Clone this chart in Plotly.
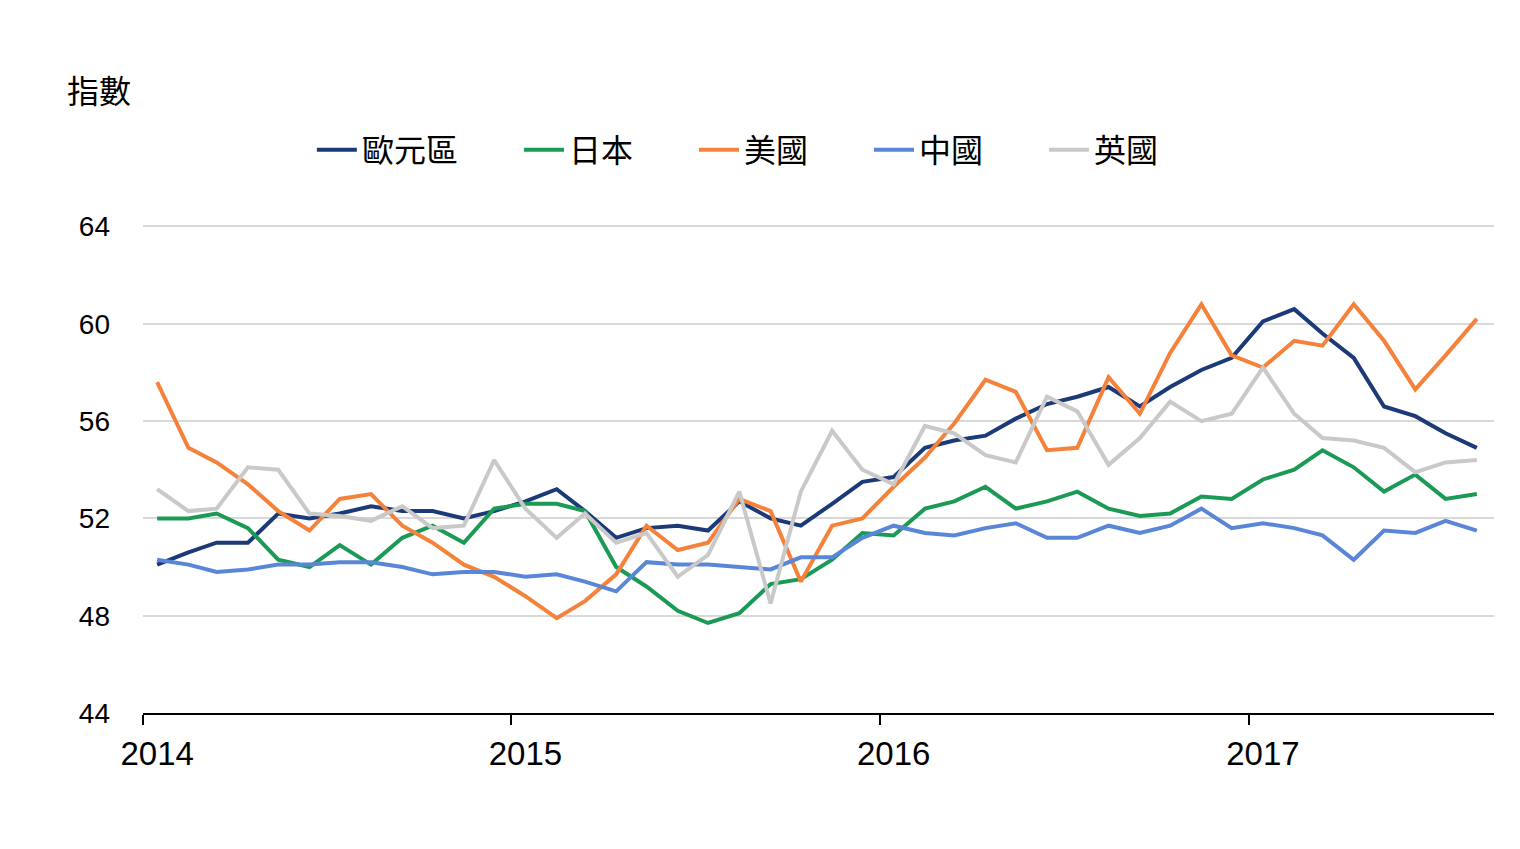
import pandas as pd
import plotly.graph_objects as go

months = pd.date_range("2014-01-01", "2017-08-01", freq="MS") + pd.Timedelta(days=14)

euro = [50.1, 50.6, 51.0, 51.0, 52.2, 52.0, 52.2, 52.5, 52.3, 52.3, 52.0, 52.3,
        52.7, 53.2, 52.3, 51.2, 51.6, 51.7, 51.5, 52.7, 52.0, 51.7, 52.6, 53.5,
        53.7, 54.9, 55.2, 55.4, 56.1, 56.7, 57.0, 57.4, 56.6, 57.4, 58.1, 58.6,
        60.1, 60.6, 59.6, 58.6, 56.6, 56.2, 55.5, 54.9]
japan = [52.0, 52.0, 52.2, 51.6, 50.3, 50.0, 50.9, 50.1, 51.2, 51.7, 51.0, 52.4,
         52.6, 52.6, 52.3, 50.0, 49.2, 48.2, 47.7, 48.1, 49.3, 49.5, 50.3, 51.4,
         51.3, 52.4, 52.7, 53.3, 52.4, 52.7, 53.1, 52.4, 52.1, 52.2, 52.9, 52.8,
         53.6, 54.0, 54.8, 54.1, 53.1, 53.8, 52.8, 53.0]
usa = [57.6, 54.9, 54.3, 53.4, 52.3, 51.5, 52.8, 53.0, 51.7, 51.0, 50.1, 49.6,
       48.8, 47.9, 48.6, 49.7, 51.7, 50.7, 51.0, 52.8, 52.3, 49.4, 51.7, 52.0,
       53.3, 54.5, 55.9, 57.7, 57.2, 54.8, 54.9, 57.8, 56.3, 58.8, 60.8, 58.7,
       58.2, 59.3, 59.1, 60.8, 59.3, 57.3, 58.7, 60.2]
china = [50.3, 50.1, 49.8, 49.9, 50.1, 50.1, 50.2, 50.2, 50.0, 49.7, 49.8, 49.8,
         49.6, 49.7, 49.4, 49.0, 50.2, 50.1, 50.1, 50.0, 49.9, 50.4, 50.4, 51.2,
         51.7, 51.4, 51.3, 51.6, 51.8, 51.2, 51.2, 51.7, 51.4, 51.7, 52.4, 51.6,
         51.8, 51.6, 51.3, 50.3, 51.5, 51.4, 51.9, 51.5]
uk = [53.2, 52.3, 52.4, 54.1, 54.0, 52.2, 52.1, 51.9, 52.5, 51.6, 51.7, 54.4,
      52.4, 51.2, 52.2, 51.0, 51.4, 49.6, 50.5, 53.1, 48.5, 53.1, 55.6, 54.0,
      53.4, 55.8, 55.5, 54.6, 54.3, 57.0, 56.4, 54.2, 55.3, 56.8, 56.0, 56.3,
      58.2, 56.3, 55.3, 55.2, 54.9, 53.9, 54.3, 54.4]

# (name, values, colour, legend box) - euro area sits in its own legend box
series = [("歐元區", euro, "#1c3a78", "legend"),
          ("日本", japan, "#1b9a56", "legend2"),
          ("美國", usa, "#f5823a", "legend2"),
          ("中國", china, "#5a86d8", "legend2"),
          ("英國", uk, "#c9c9c9", "legend2")]

year_labels = ["2014", "2015", "2016", "2017"]
year_ticks = ["2014-01-15", "2015-01-15", "2016-01-15", "2017-01-15"]

fig = go.Figure()
for name, vals, color, lg in series:
    fig.add_trace(go.Scatter(x=months, y=vals, name=name, mode="lines", legend=lg,
                             showlegend=True, line=dict(color=color, width=4)))

legend_font = dict(family="Noto Sans CJK TC", size=32, color="black")
fig.update_layout(
    width=1520, height=849, showlegend=True,
    paper_bgcolor="white", plot_bgcolor="white",
    margin=dict(l=135, r=34, t=217, b=144),
    font=dict(family="Liberation Sans, Arial", color="black"),
    legend=dict(orientation="h", x=0.125, xanchor="left", y=1.154, yanchor="middle",
                font=legend_font, itemwidth=40, visible=True),
    legend2=dict(orientation="h", x=0.2783, xanchor="left", y=1.154, yanchor="middle",
                 font=legend_font, itemwidth=40, visible=True,
                 entrywidth=120, entrywidthmode="pixels"),
    annotations=[dict(text="指數", xref="paper", yref="paper", x=-0.0577, y=1.279,
                      xanchor="left", yanchor="middle", showarrow=False,
                      font=legend_font)],
)

fig.update_xaxes(
    type="date", range=["2014-01-01", "2017-09-01"],
    tickvals=year_ticks, ticktext=year_labels, ticks="",
    tickfont=dict(size=33), ticklabelstandoff=10,
    showline=True, linecolor="black", linewidth=1.8, showgrid=False,
    minor=dict(ticks="outside", ticklen=10, tickwidth=1.8, tickcolor="black",
               tick0="2014-01-01", dtick="M12", showgrid=False),
)
fig.update_yaxes(
    range=[44, 64.06], dtick=4, tick0=44,
    tickfont=dict(size=28), ticklabelstandoff=32,
    showgrid=True, gridcolor="#d9d9d9", gridwidth=2,
    zeroline=False, showline=False,
)

fig.write_html("out.html")
